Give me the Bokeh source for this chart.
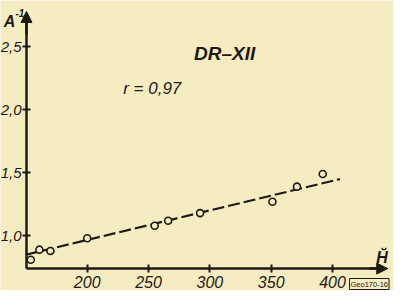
from bokeh.plotting import figure
from bokeh.models import Range1d, FixedTicker, Arrow, NormalHead, Label
from bokeh.embed import file_html
from bokeh.resources import INLINE

# ---- data ----
h_vals = [154, 161, 170, 200, 255, 266, 292, 351, 371, 392]
a_inv = [0.81, 0.89, 0.88, 0.98, 1.08, 1.12, 1.18, 1.27, 1.39, 1.49]
fit_h = [150, 406]
fit_a = [0.85, 1.45]
x_ticks = [200, 250, 300, 350, 400]
y_ticks = [1.0, 1.5, 2.0, 2.5]
y_tick_labels = ["1,0", "1,5", "2,0", "2,5"]
series_name = "DR–XII"
r_text = "r = 0,97"
x_title = "H\u0306"
y_title = "A"
y_title_exp = "-1"
fig_code = "Geo170-16"

bg = "#f6ecc2"
ink = "#1c1a16"
font = "Liberation Sans"

x0 = 150.5   # position of y axis (x value)
y0 = 0.74    # position of x axis (y value)

p = figure(width=393, height=290,
           x_range=Range1d(129.3, 449.7), y_range=Range1d(0.566, 2.867),
           output_backend="svg", toolbar_location=None, min_border=0,
           background_fill_color=bg, border_fill_color=bg,
           outline_line_color=None)
p.grid.visible = False

for ax in (p.xaxis[0], p.yaxis[0]):
    ax.axis_line_width = 2.5
    ax.axis_line_color = ink
    ax.major_tick_line_width = 2
    ax.major_tick_line_color = ink
    ax.major_tick_in = 4
    ax.major_tick_out = 4
    ax.minor_tick_line_color = None
    ax.major_label_text_font = font
    ax.major_label_text_font_style = "italic"
    ax.major_label_text_color = ink
    ax.major_label_text_font_size = "16px"

p.xaxis.fixed_location = y0
p.yaxis.fixed_location = x0
p.xaxis.bounds = (x0, 440)
p.yaxis.bounds = (y0, 2.74)
p.xaxis.ticker = FixedTicker(ticks=x_ticks)
p.yaxis.ticker = FixedTicker(ticks=y_ticks)
p.yaxis.major_label_overrides = dict(zip(y_ticks, y_tick_labels))
p.xaxis.major_label_standoff = 3
p.yaxis.major_label_standoff = 1
p.yaxis.major_label_text_font_size = "15px"

# arrow heads
p.add_layout(Arrow(end=NormalHead(size=11, fill_color=ink, line_color=ink),
                   x_start=430, y_start=y0, x_end=445, y_end=y0,
                   line_width=2.5, line_color=ink))
p.add_layout(Arrow(end=NormalHead(size=11, fill_color=ink, line_color=ink),
                   x_start=x0, y_start=2.6, x_end=x0, y_end=2.78,
                   line_width=2.5, line_color=ink))

# regression line and points
p.line(fit_h, fit_a, line_color=ink, line_width=2.2, line_dash="12 4")
p.scatter(h_vals, a_inv, size=7, marker="circle", fill_color=bg,
          line_color=ink, line_width=1.6)

# texts
p.add_layout(Label(x=312, y=2.447, text=series_name, text_font=font,
                   text_font_style="bold italic", text_font_size="19px",
                   text_color=ink, text_align="center", text_baseline="middle"))
p.add_layout(Label(x=253, y=2.169, text=r_text, text_font=font,
                   text_font_style="italic", text_font_size="17px",
                   text_color=ink, text_align="center", text_baseline="middle"))
p.add_layout(Label(x=132, y=2.70, text=y_title, text_font=font,
                   text_font_style="bold italic", text_font_size="16px",
                   text_color=ink, text_align="left", text_baseline="alphabetic"))
p.add_layout(Label(x=141.5, y=2.77, text=y_title_exp, text_font=font,
                   text_font_style="bold italic", text_font_size="10px",
                   text_color=ink, text_align="left", text_baseline="alphabetic"))
p.add_layout(Label(x=440.4, y=0.828, text=x_title, text_font=font,
                   text_font_style="bold italic", text_font_size="16px",
                   text_color=ink, text_align="center", text_baseline="alphabetic"))
p.add_layout(Label(x=349, y=1, x_units="screen", y_units="screen",
                   text=fig_code, text_font=font, text_font_size="7.5px",
                   text_color=ink, text_align="left", text_baseline="bottom",
                   border_line_color=ink, border_line_width=1,
                   background_fill_color=bg, padding=1))

open("out.html", "w").write(file_html(p, INLINE))
